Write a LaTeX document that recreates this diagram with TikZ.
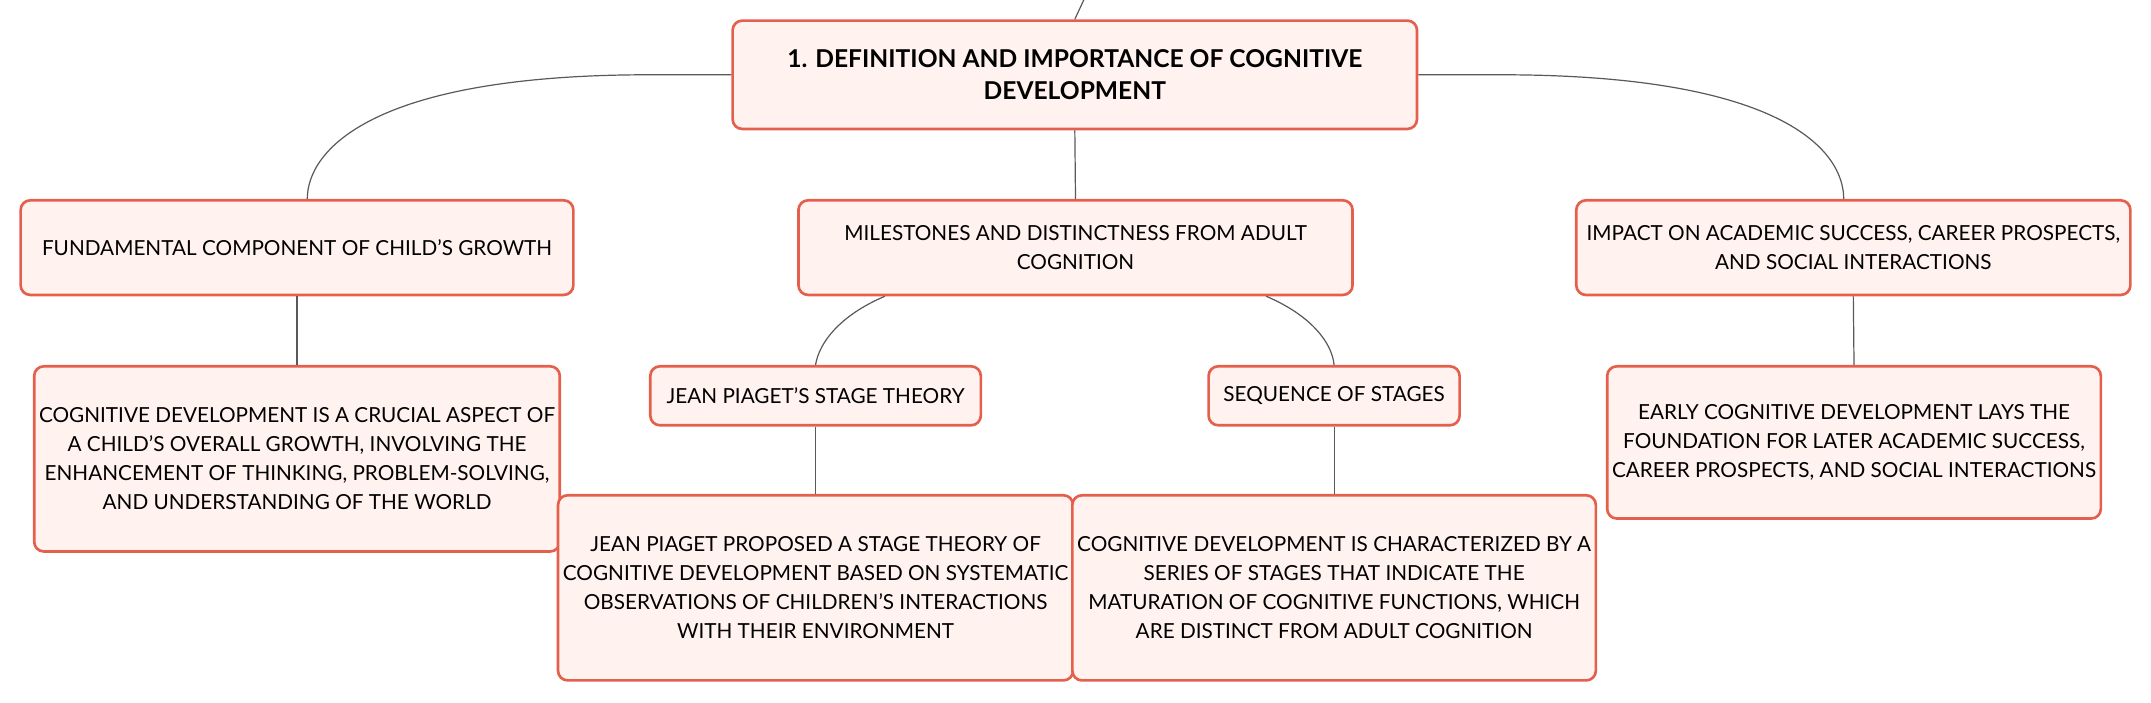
\documentclass[tikz,border=0pt]{standalone}
\usepackage{fontspec}
\setmainfont{Lato}
\usetikzlibrary{positioning}
\definecolor{boxline}{HTML}{E5604C}
\definecolor{boxfill}{HTML}{FFF2EF}
\tikzset{
  topic/.style={draw=boxline, fill=boxfill, line width=1.1pt, rounded corners=4pt,
    align=center, inner sep=2pt, font=\fontsize{8.6}{12}\selectfont},
  maintopic/.style={topic, font=\fontsize{10.2}{13.2}\selectfont\bfseries},
  link/.style={draw=black!65, line width=0.5pt}
}
\begin{document}
\begin{tikzpicture}[x=0.02cm, y=-0.02cm]
    \useasboundingbox (0,0) rectangle (1568,512);
    % main topic
    \node[maintopic, minimum width=9.98cm, minimum height=1.58cm] (main) at (783.5,54.5)
        {1. DEFINITION AND IMPORTANCE OF COGNITIVE\\DEVELOPMENT};
    \coordinate (root) at (790,0);

    % subtopics
    \node[topic, minimum width=8.06cm, minimum height=1.38cm] (growth) at (216.5,180.5)
        {FUNDAMENTAL COMPONENT OF CHILD'S GROWTH};
    \node[topic, minimum width=8.08cm, minimum height=1.38cm] (milestones) at (784,180.5)
        {MILESTONES AND DISTINCTNESS FROM ADULT\\COGNITION};
    \node[topic, minimum width=8.08cm, minimum height=1.38cm] (impact) at (1351,180.5)
        {IMPACT ON ACADEMIC SUCCESS, CAREER PROSPECTS,\\AND SOCIAL INTERACTIONS};

    \node[topic, minimum width=6.54cm, minimum height=2.7cm] (growthtext) at (216.5,334.5)
        {COGNITIVE DEVELOPMENT IS A CRUCIAL ASPECT OF\\A CHILD'S OVERALL GROWTH, INVOLVING THE\\ENHANCEMENT OF THINKING, PROBLEM-SOLVING,\\AND UNDERSTANDING OF THE WORLD};
    \node[topic, minimum width=4.82cm, minimum height=0.86cm] (piaget) at (594.5,288.5)
        {JEAN PIAGET'S STAGE THEORY};
    \node[topic, minimum width=3.66cm, minimum height=0.86cm] (sequence) at (972.5,288.5)
        {SEQUENCE OF STAGES};
    \node[topic, minimum width=6.54cm, minimum height=2.7cm] (piagettext) at (594.5,428.5)
        {JEAN PIAGET PROPOSED A STAGE THEORY OF\\COGNITIVE DEVELOPMENT BASED ON SYSTEMATIC\\OBSERVATIONS OF CHILDREN'S INTERACTIONS\\WITH THEIR ENVIRONMENT};
    \node[topic, minimum width=6.54cm, minimum height=2.7cm] (sequencetext) at (972.5,428.5)
        {COGNITIVE DEVELOPMENT IS CHARACTERIZED BY A\\SERIES OF STAGES THAT INDICATE THE\\MATURATION OF COGNITIVE FUNCTIONS, WHICH\\ARE DISTINCT FROM ADULT COGNITION};
    \node[topic, minimum width=6.54cm, minimum height=2.22cm] (impacttext) at (1351.5,322.5)
        {EARLY COGNITIVE DEVELOPMENT LAYS THE\\FOUNDATION FOR LATER ACADEMIC SUCCESS,\\CAREER PROSPECTS, AND SOCIAL INTERACTIONS};

    % connectors
    \draw[link] (root) -- (main.north);
    \draw[link] (main.west) -- ++(-60,0) .. controls (270,54.5) and (224,110) .. ([xshift=7.5*0.02cm]growth.north);
    \draw[link] (main.east) -- ++(60,0) .. controls (1300,54.5) and (1344,110) .. ([xshift=-7*0.02cm]impact.north);
    \draw[link] (main.south) -- (milestones.north);
    \draw[link] (growth.south) -- (growthtext.north);
    \draw[link] (impact.south) -- (impacttext.north);
    \draw[link] ([xshift=-139*0.02cm]milestones.south) .. controls (612,230) and (597,250) .. (piaget.north);
    \draw[link] ([xshift=139*0.02cm]milestones.south) .. controls (956,230) and (971,250) .. (sequence.north);
    \draw[link] (piaget.south) -- (piagettext.north);
    \draw[link] (sequence.south) -- (sequencetext.north);
\end{tikzpicture}
\end{document}
